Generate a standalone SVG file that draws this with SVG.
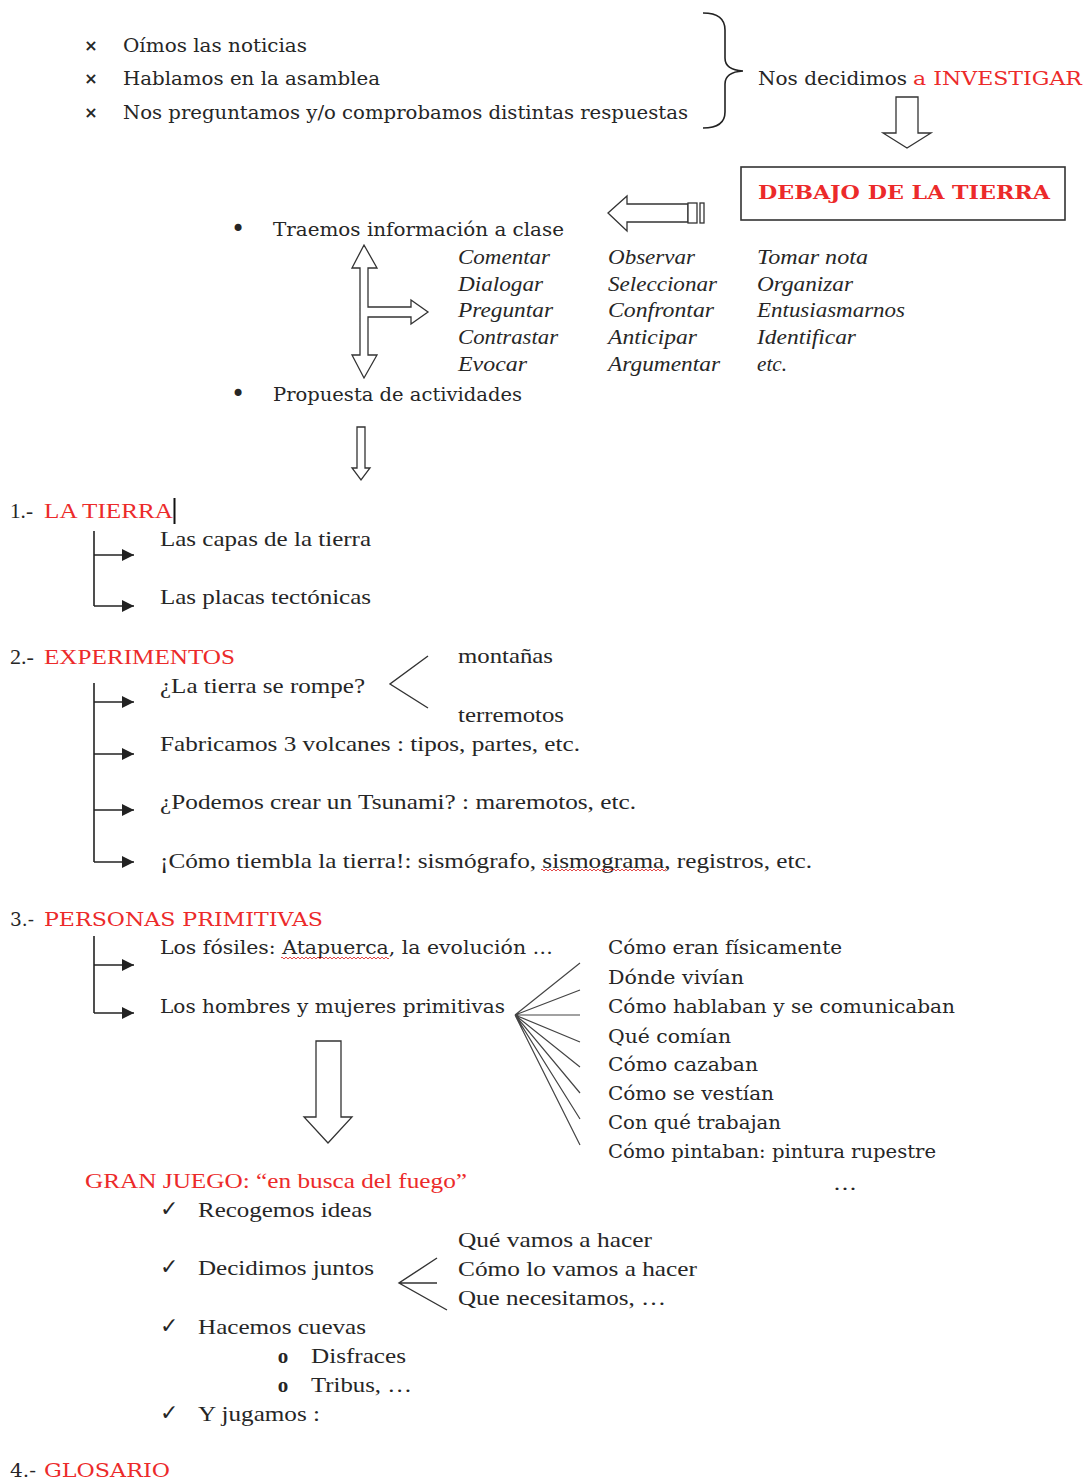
<svg xmlns="http://www.w3.org/2000/svg" width="1086" height="1481" viewBox="0 0 1086 1481">
<style>
text{fill:#262626}
.dv{font-family:"DejaVu Serif","Liberation Serif",serif;font-size:18px}
.ls{font-family:"Liberation Serif","DejaVu Serif",serif;font-size:21px}
.it{font-family:"Liberation Serif","DejaVu Serif",serif;font-size:21px;font-style:italic}
.red{fill:#ec2a2a}
.bold{font-weight:bold}
.sym{font-family:"DejaVu Sans",sans-serif;font-size:16px}
.chk{font-family:"DejaVu Sans",sans-serif;font-size:22px;font-weight:bold}
.dot{font-family:"DejaVu Sans",sans-serif;font-size:24px}
.ln{stroke:#333;stroke-width:1.4;fill:none}
.fan{stroke:#444;stroke-width:1.2;fill:none}
.hollow{fill:#fff;stroke:#333;stroke-width:1.3;stroke-linejoin:miter}
.br{stroke:#222;stroke-width:1.6;fill:none}
</style>
<defs>
<marker id="ah" markerWidth="12" markerHeight="12" refX="12" refY="6" orient="auto" markerUnits="userSpaceOnUse"><path d="M0,0 L12,6 L0,12 Z" fill="#222"/></marker>
<pattern id="wavy" width="4" height="4" patternUnits="userSpaceOnUse"><path d="M0,3 L2,1 L4,3" stroke="#e03030" stroke-width="0.9" fill="none"/></pattern>
</defs>
<rect width="1086" height="1481" fill="#fff"/>

<g id="intro">
<text class="sym bold" x="91" y="51" text-anchor="middle">×</text>
<text class="sym bold" x="91" y="84" text-anchor="middle">×</text>
<text class="sym bold" x="91" y="118" text-anchor="middle">×</text>
<text class="dv" x="123" y="52" textLength="184" lengthAdjust="spacingAndGlyphs">Oímos las noticias</text>
<text class="dv" x="123" y="85" textLength="257" lengthAdjust="spacingAndGlyphs">Hablamos en la asamblea</text>
<text class="dv" x="123" y="119" textLength="565" lengthAdjust="spacingAndGlyphs">Nos preguntamos y/o comprobamos distintas respuestas</text>
</g>

<g id="investigar">
<text class="dv" x="758" y="85" textLength="149" lengthAdjust="spacingAndGlyphs">Nos decidimos</text>
<text class="dv red" x="913" y="85" textLength="169" lengthAdjust="spacingAndGlyphs">a INVESTIGAR</text>
</g>

<g id="debajo">
<rect x="741" y="167" width="324" height="53" fill="#fff" stroke="#333" stroke-width="1.6"/>
<text class="dv red bold" x="758" y="199" font-size="19" textLength="292" lengthAdjust="spacingAndGlyphs">DEBAJO DE LA TIERRA</text>
</g>

<g id="traemos">
<text class="dot" x="238" y="237" text-anchor="middle">•</text>
<text class="dv" x="273" y="236" textLength="291" lengthAdjust="spacingAndGlyphs">Traemos información a clase</text>
</g>

<g id="verbos">
<text class="it" x="458" y="264" textLength="92" lengthAdjust="spacingAndGlyphs">Comentar</text>
<text class="it" x="458" y="291" textLength="85" lengthAdjust="spacingAndGlyphs">Dialogar</text>
<text class="it" x="458" y="317" textLength="95" lengthAdjust="spacingAndGlyphs">Preguntar</text>
<text class="it" x="458" y="344" textLength="100" lengthAdjust="spacingAndGlyphs">Contrastar</text>
<text class="it" x="458" y="371" textLength="69" lengthAdjust="spacingAndGlyphs">Evocar</text>
<text class="it" x="608" y="264" textLength="87" lengthAdjust="spacingAndGlyphs">Observar</text>
<text class="it" x="608" y="291" textLength="109" lengthAdjust="spacingAndGlyphs">Seleccionar</text>
<text class="it" x="608" y="317" textLength="106" lengthAdjust="spacingAndGlyphs">Confrontar</text>
<text class="it" x="608" y="344" textLength="89" lengthAdjust="spacingAndGlyphs">Anticipar</text>
<text class="it" x="608" y="371" textLength="112" lengthAdjust="spacingAndGlyphs">Argumentar</text>
<text class="it" x="757" y="264" textLength="111" lengthAdjust="spacingAndGlyphs">Tomar nota</text>
<text class="it" x="757" y="291" textLength="96" lengthAdjust="spacingAndGlyphs">Organizar</text>
<text class="it" x="757" y="317" textLength="148" lengthAdjust="spacingAndGlyphs">Entusiasmarnos</text>
<text class="it" x="757" y="344" textLength="99" lengthAdjust="spacingAndGlyphs">Identificar</text>
<text class="it" x="757" y="371" textLength="30" lengthAdjust="spacingAndGlyphs">etc.</text>
</g>

<g id="propuesta">
<text class="dot" x="238" y="402" text-anchor="middle">•</text>
<text class="dv" x="273" y="401" textLength="249" lengthAdjust="spacingAndGlyphs">Propuesta de actividades</text>
</g>

<g id="tierra">
<text class="ls" x="10" y="518" textLength="23" lengthAdjust="spacingAndGlyphs">1.-</text>
<text class="ls red" x="44" y="518" textLength="129" lengthAdjust="spacingAndGlyphs">LA TIERRA</text>
<line x1="174.5" y1="498" x2="174.5" y2="524" stroke="#111" stroke-width="2"/>
<text class="ls" x="160" y="546" textLength="211" lengthAdjust="spacingAndGlyphs">Las capas de la tierra</text>
<text class="ls" x="160" y="604" textLength="211" lengthAdjust="spacingAndGlyphs">Las placas tectónicas</text>
</g>

<g id="experimentos">
<text class="ls" x="10" y="664" textLength="24" lengthAdjust="spacingAndGlyphs">2.-</text>
<text class="ls red" x="44" y="664" textLength="191" lengthAdjust="spacingAndGlyphs">EXPERIMENTOS</text>
<text class="ls" x="160" y="693" textLength="205" lengthAdjust="spacingAndGlyphs">¿La tierra se rompe?</text>
<text class="ls" x="458" y="663" textLength="95" lengthAdjust="spacingAndGlyphs">montañas</text>
<text class="ls" x="458" y="722" textLength="106" lengthAdjust="spacingAndGlyphs">terremotos</text>
<text class="ls" x="160" y="751" textLength="420" lengthAdjust="spacingAndGlyphs">Fabricamos 3 volcanes : tipos, partes, etc.</text>
<text class="ls" x="160" y="809" textLength="476" lengthAdjust="spacingAndGlyphs">¿Podemos crear un Tsunami? : maremotos, etc.</text>
<text class="ls" x="160" y="868" textLength="652" lengthAdjust="spacingAndGlyphs">¡Cómo tiembla la tierra!: sismógrafo, sismograma, registros, etc.</text>
<rect x="541" y="869" width="125" height="4" fill="url(#wavy)"/>
</g>

<g id="primitivas">
<text class="dv" x="10" y="926" textLength="24" lengthAdjust="spacingAndGlyphs">3.-</text>
<text class="dv red" x="44" y="926" textLength="279" lengthAdjust="spacingAndGlyphs">PERSONAS PRIMITIVAS</text>
<text class="dv" x="160" y="954" textLength="393" lengthAdjust="spacingAndGlyphs">Los fósiles: Atapuerca, la evolución …</text>
<rect x="281" y="956" width="108" height="4" fill="url(#wavy)"/>
<text class="dv" x="160" y="1013" textLength="345" lengthAdjust="spacingAndGlyphs">Los hombres y mujeres primitivas</text>
</g>

<g id="aspectos">
<text class="dv" x="608" y="954" textLength="234" lengthAdjust="spacingAndGlyphs">Cómo eran físicamente</text>
<text class="dv" x="608" y="984" textLength="136" lengthAdjust="spacingAndGlyphs">Dónde vivían</text>
<text class="dv" x="608" y="1013" textLength="347" lengthAdjust="spacingAndGlyphs">Cómo hablaban y se comunicaban</text>
<text class="dv" x="608" y="1043" textLength="123" lengthAdjust="spacingAndGlyphs">Qué comían</text>
<text class="dv" x="608" y="1071" textLength="150" lengthAdjust="spacingAndGlyphs">Cómo cazaban</text>
<text class="dv" x="608" y="1100" textLength="166" lengthAdjust="spacingAndGlyphs">Cómo se vestían</text>
<text class="dv" x="608" y="1129" textLength="173" lengthAdjust="spacingAndGlyphs">Con qué trabajan</text>
<text class="dv" x="608" y="1158" textLength="328" lengthAdjust="spacingAndGlyphs">Cómo pintaban: pintura rupestre</text>
<text class="dv" x="833" y="1190" textLength="24" lengthAdjust="spacingAndGlyphs">…</text>
</g>

<g id="granjuego">
<text class="ls red" x="85" y="1188" textLength="382" lengthAdjust="spacingAndGlyphs">GRAN JUEGO: “en busca del fuego”</text>
<text class="chk" x="160" y="1216">✓</text>
<text class="ls" x="198" y="1217" textLength="174" lengthAdjust="spacingAndGlyphs">Recogemos ideas</text>
<text class="chk" x="160" y="1274">✓</text>
<text class="ls" x="198" y="1275" textLength="176" lengthAdjust="spacingAndGlyphs">Decidimos juntos</text>
<text class="ls" x="458" y="1247" textLength="194" lengthAdjust="spacingAndGlyphs">Qué vamos a hacer</text>
<text class="ls" x="458" y="1276" textLength="239" lengthAdjust="spacingAndGlyphs">Cómo lo vamos a hacer</text>
<text class="ls" x="458" y="1305" textLength="208" lengthAdjust="spacingAndGlyphs">Que necesitamos, …</text>
<text class="chk" x="160" y="1333">✓</text>
<text class="ls" x="198" y="1334" textLength="168" lengthAdjust="spacingAndGlyphs">Hacemos cuevas</text>
<text class="ls bold" x="283" y="1363" text-anchor="middle" font-size="18">o</text>
<text class="ls" x="311" y="1363" textLength="95" lengthAdjust="spacingAndGlyphs">Disfraces</text>
<text class="ls bold" x="283" y="1392" text-anchor="middle" font-size="18">o</text>
<text class="ls" x="311" y="1392" textLength="101" lengthAdjust="spacingAndGlyphs">Tribus, …</text>
<text class="chk" x="160" y="1420">✓</text>
<text class="ls" x="198" y="1421" textLength="122" lengthAdjust="spacingAndGlyphs">Y jugamos :</text>
</g>

<g id="glosario">
<text class="dv" x="10" y="1477" textLength="26" lengthAdjust="spacingAndGlyphs">4.-</text>
<text class="dv red" x="44" y="1477" textLength="126" lengthAdjust="spacingAndGlyphs">GLOSARIO</text>
</g>

<g id="connectors">
<path class="br" d="M703,13 Q725,13 725,30 L725,58 Q725,70 743,71 Q725,72 725,84 L725,112 Q725,128 703,128"/>
<polygon class="hollow" points="896,97 918,97 918,133 931,133 907,148 883,133 896,133"/>
<polygon class="hollow" points="608,213 627,196 627,204 688,204 688,222 627,222 627,231"/>
<rect class="hollow" x="688" y="203" width="9" height="20"/>
<rect class="hollow" x="700" y="203" width="4" height="20" fill="#333"/>
<path class="hollow" d="M364,245 L377,268 L368,268 L368,307 L411,307 L411,300 L428,312 L411,324 L411,317 L368,317 L368,355 L377,355 L364,378 L352,355 L360,355 L360,268 L352,268 Z"/>
<polygon class="hollow" points="357,427 365,427 365,468 370,468 361,480 352,468 357,468"/>
<path class="br" d="M94,531 V606"/>
<line class="br" x1="94" y1="555" x2="134" y2="555" marker-end="url(#ah)"/>
<line class="br" x1="94" y1="606" x2="134" y2="606" marker-end="url(#ah)"/>
<path class="br" d="M94,683 V862"/>
<line class="br" x1="94" y1="702" x2="134" y2="702" marker-end="url(#ah)"/>
<line class="br" x1="94" y1="754" x2="134" y2="754" marker-end="url(#ah)"/>
<line class="br" x1="94" y1="810" x2="134" y2="810" marker-end="url(#ah)"/>
<line class="br" x1="94" y1="862" x2="134" y2="862" marker-end="url(#ah)"/>
<path class="ln" d="M428,656 L390,684 L428,708"/>
<path class="br" d="M94,936 V1013"/>
<line class="br" x1="94" y1="965" x2="134" y2="965" marker-end="url(#ah)"/>
<line class="br" x1="94" y1="1013" x2="134" y2="1013" marker-end="url(#ah)"/>
<path class="fan" d="M515,1015 L580,963 M515,1015 L580,990 M515,1015 L580,1015 M515,1015 L580,1042 M515,1015 L580,1067 M515,1015 L580,1093 M515,1015 L580,1119 M515,1015 L580,1145"/>
<polygon class="hollow" points="316,1041 341,1041 341,1117 352,1117 328,1143 304,1117 316,1117"/>
<path class="ln" d="M437,1258 L399,1283 L447,1310 M399,1283 L437,1283"/>
</g>
</svg>
